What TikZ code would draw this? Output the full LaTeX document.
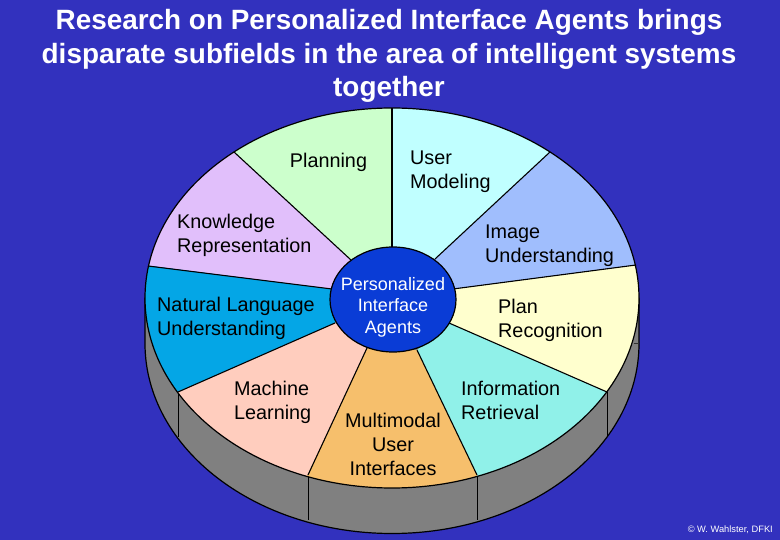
\documentclass[tikz,border=0pt]{standalone}
\usepackage{fontspec}
\usetikzlibrary{calc}
\setmainfont{Liberation Sans}
\definecolor{bgblue}{HTML}{3231BE}
\definecolor{cplan}{HTML}{CCFFCC}
\definecolor{cknow}{HTML}{E1BFFB}
\definecolor{cnat}{HTML}{04A6E6}
\definecolor{cmach}{HTML}{FFCDBE}
\definecolor{cmulti}{HTML}{F6BF6C}
\definecolor{cinfo}{HTML}{90F1E9}
\definecolor{cplanrec}{HTML}{FFFFCE}
\definecolor{cimage}{HTML}{A0BEFD}
\definecolor{cuser}{HTML}{C0FFFF}
\definecolor{chub}{HTML}{0A3CD6}
\definecolor{cside}{HTML}{808080}
\tikzset{
  x=1pt,y=-1pt,
  rim/.style={draw=black,line width=1.2pt,line join=round},
  spoke/.style={draw=black,line width=1.1pt},
  edge/.style={draw=black,line width=0.8pt},
  lab/.style={inner sep=0pt,align=left,text=black,font=\fontsize{19.8}{24}\selectfont},
  clab/.style={lab,align=center},
  hublab/.style={inner sep=0pt,align=center,text=white,font=\fontsize{18}{21.5}\selectfont},
  titlelab/.style={inner sep=0pt,align=center,text=white,font=\fontsize{27.9}{33.5}\selectfont\bfseries},
  foot/.style={inner sep=0pt,text=white,font=\fontsize{9.3}{11}\selectfont}
}
\begin{document}
\begin{tikzpicture}
\useasboundingbox (0,0) rectangle (780,540);
\fill[bgblue] (0,0) rectangle (780,540);
% key points
\coordinate (C) at (392,298);
\coordinate (o0) at (392,108);  \coordinate (i0) at (392,247);
\coordinate (o1) at (234,152);  \coordinate (i1) at (351,260);
\coordinate (o2) at (148,266);  \coordinate (i2) at (332,289);
\coordinate (o3) at (178,392);  \coordinate (i3) at (335,323);
\coordinate (o4) at (308,475);  \coordinate (i4) at (367,348);
\coordinate (o5) at (477,475);  \coordinate (i5) at (417,350);
\coordinate (o6) at (607,392);  \coordinate (i6) at (449,323);
\coordinate (o7) at (636,265);  \coordinate (i7) at (453,289);
\coordinate (o8) at (550,152);  \coordinate (i8) at (435,259);
\coordinate (wl) at (145,298);  \coordinate (wll) at (145,343.5);
\coordinate (wr) at (639,298);  \coordinate (wrl) at (639,343.5);
\coordinate (wt) at (633.5,343.5);
% side wall
\path[rim,fill=cside] (wl) -- (wll) arc[start angle=180,end angle=360,x radius=247pt,y radius=190pt] -- (wr) -- cycle;
\draw[edge] (o3) -- ++(0,45);
\draw[edge] (o4) -- ++(0,45);
\draw[edge] (o5) -- ++(0,45);
\draw[edge] (o6) -- ++(0,45);
\draw[black!60!cside,line width=0.5pt] (wt) -- (wrl);
% sectors
\begin{scope}
\clip (C) ellipse[x radius=247pt,y radius=190pt];
\fill[cplan] (i1) -- ($(C)!1.5!(o1)$) -- ($(C)!1.5!(o0)$) -- (i0) -- cycle;
\fill[cknow] (i2) -- ($(C)!1.5!(o2)$) -- ($(C)!1.5!(o1)$) -- (i1) -- cycle;
\fill[cnat] (i3) -- ($(C)!1.5!(o3)$) -- ($(C)!1.5!(o2)$) -- (i2) -- cycle;
\fill[cmach] (i4) -- ($(C)!1.5!(o4)$) -- ($(C)!1.5!(o3)$) -- (i3) -- cycle;
\fill[cmulti] (i5) -- ($(C)!1.5!(o5)$) -- ($(C)!1.5!(o4)$) -- (i4) -- cycle;
\fill[cinfo] (i6) -- ($(C)!1.5!(o6)$) -- ($(C)!1.5!(o5)$) -- (i5) -- cycle;
\fill[cplanrec] (i7) -- ($(C)!1.5!(o7)$) -- ($(C)!1.5!(o6)$) -- (i6) -- cycle;
\fill[cimage] (i8) -- ($(C)!1.5!(o8)$) -- ($(C)!1.5!(o7)$) -- (i7) -- cycle;
\fill[cuser] (i0) -- ($(C)!1.5!(o0)$) -- ($(C)!1.5!(o8)$) -- (i8) -- cycle;
\end{scope}
\foreach \k in {0,...,8} {\draw[spoke] (i\k) -- (o\k);}
\draw[rim] (C) ellipse[x radius=247pt,y radius=190pt];
% hub
\draw[rim,fill=chub] (393,299.5) ellipse[x radius=63pt,y radius=52.5pt];
% labels
\node[hublab] (hub) at (393,307) {Personalized\\Interface\\Agents};
\node[lab,anchor=center] (plan) at (328.5,162) {Planning};
\node[lab,anchor=west] (user) at (410,172) {User\\Modeling};
\node[lab,anchor=west] (know) at (177,235) {Knowledge\\Representation};
\node[lab,anchor=west] (image) at (485,246) {Image\\Understanding};
\node[lab,anchor=west] (nat) at (157,318) {Natural Language\\Understanding};
\node[lab,anchor=west] (rec) at (498,320) {Plan\\Recognition};
\node[lab,anchor=west] (mach) at (234,402) {Machine\\Learning};
\node[lab,anchor=west] (info) at (461,400) {Information\\Retrieval};
\node[clab] (multi) at (393,444) {Multimodal\\User\\Interfaces};
\node[titlelab] (title) at (389,56) {Research on Personalized Interface Agents brings\\disparate subfields in the area of intelligent systems\\together};
\node[foot,anchor=east] (copy) at (773,530) {© W. Wahlster, DFKI};
\end{tikzpicture}
\end{document}
